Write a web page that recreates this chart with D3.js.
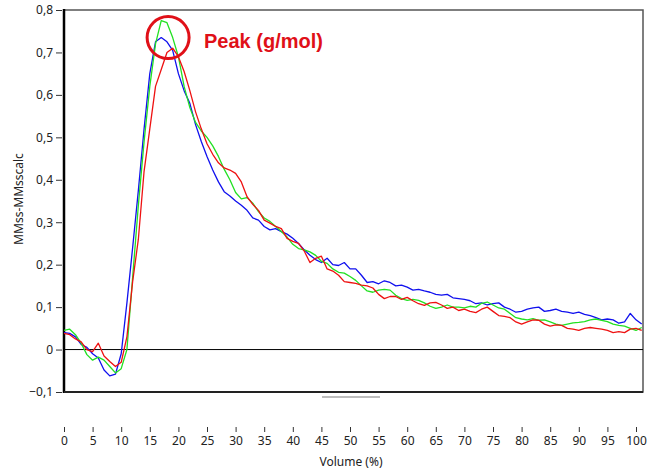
<!DOCTYPE html>
<html>
<head>
<meta charset="utf-8">
<script src="https://cdn.jsdelivr.net/npm/d3@7"></script>
<style>
body { margin: 0; background: #fff; }
text { font-family: "Noto Sans", "DejaVu Sans", sans-serif; }
</style>
</head>
<body>
<div id="chart"></div>
<script>
// volume (%) grid
var volume = d3.range(0, 102, 1);

var blueVals = [0.040, 0.038, 0.030, 0.012, 0.005, -0.010, -0.020, -0.048, -0.062, -0.058,
    -0.010, 0.110, 0.240, 0.375, 0.520, 0.650, 0.725, 0.735, 0.725, 0.705,
    0.650, 0.610, 0.580, 0.530, 0.490, 0.455, 0.423, 0.395, 0.372, 0.362,
    0.350, 0.340, 0.328, 0.310, 0.305, 0.290, 0.282, 0.285, 0.278, 0.272,
    0.262, 0.250, 0.235, 0.222, 0.212, 0.205, 0.215, 0.200, 0.198, 0.205,
    0.190, 0.190, 0.175, 0.158, 0.160, 0.155, 0.162, 0.158, 0.150, 0.152,
    0.147, 0.140, 0.142, 0.138, 0.135, 0.130, 0.128, 0.130, 0.122, 0.120,
    0.118, 0.115, 0.108, 0.110, 0.105, 0.108, 0.110, 0.100, 0.095, 0.088,
    0.090, 0.095, 0.098, 0.100, 0.090, 0.092, 0.095, 0.090, 0.088, 0.085,
    0.088, 0.083, 0.080, 0.075, 0.070, 0.072, 0.070, 0.062, 0.065, 0.085,
    0.070, 0.060];

var greenVals = [0.045, 0.048, 0.035, 0.015, -0.012, -0.025, -0.018, -0.025, -0.040, -0.055,
    -0.045, 0.000, 0.170, 0.340, 0.490, 0.620, 0.720, 0.775, 0.770, 0.735,
    0.690, 0.620, 0.570, 0.535, 0.515, 0.500, 0.480, 0.455, 0.425, 0.400,
    0.370, 0.355, 0.358, 0.345, 0.325, 0.310, 0.302, 0.290, 0.278, 0.265,
    0.248, 0.238, 0.235, 0.230, 0.222, 0.208, 0.203, 0.190, 0.182, 0.180,
    0.172, 0.163, 0.150, 0.138, 0.135, 0.140, 0.142, 0.140, 0.128, 0.120,
    0.116, 0.118, 0.116, 0.110, 0.102, 0.097, 0.100, 0.105, 0.100, 0.100,
    0.098, 0.102, 0.100, 0.109, 0.112, 0.105, 0.098, 0.095, 0.085, 0.075,
    0.072, 0.070, 0.073, 0.069, 0.070, 0.065, 0.060, 0.057, 0.060, 0.063,
    0.064, 0.066, 0.070, 0.072, 0.069, 0.066, 0.060, 0.057, 0.055, 0.050,
    0.045, 0.052];

var redVals = [0.038, 0.035, 0.025, 0.018, 0.000, -0.005, 0.015, -0.015, -0.028, -0.040,
    -0.030, 0.030, 0.160, 0.260, 0.420, 0.520, 0.620, 0.660, 0.700, 0.710,
    0.690, 0.655, 0.610, 0.560, 0.520, 0.485, 0.460, 0.440, 0.428, 0.423,
    0.415, 0.395, 0.360, 0.342, 0.328, 0.305, 0.298, 0.290, 0.285, 0.262,
    0.255, 0.250, 0.232, 0.205, 0.215, 0.220, 0.190, 0.185, 0.175, 0.160,
    0.158, 0.156, 0.152, 0.150, 0.145, 0.130, 0.120, 0.125, 0.125, 0.118,
    0.123, 0.115, 0.108, 0.104, 0.110, 0.111, 0.105, 0.097, 0.100, 0.092,
    0.095, 0.090, 0.087, 0.095, 0.100, 0.090, 0.080, 0.078, 0.075, 0.065,
    0.060, 0.065, 0.070, 0.069, 0.060, 0.055, 0.058, 0.057, 0.050, 0.048,
    0.045, 0.050, 0.052, 0.050, 0.048, 0.045, 0.040, 0.042, 0.040, 0.048,
    0.050, 0.045];

var xTicks = d3.range(0, 101, 5);
var yTicks = [-0.1, 0, 0.1, 0.2, 0.3, 0.4, 0.5, 0.6, 0.7, 0.8];

var series = [
    { name: "blue", color: "#1010ee", values: blueVals },
    { name: "green", color: "#22e022", values: greenVals },
    { name: "red", color: "#ee1111", values: redVals }
];

var width = 652;
var height = 472;
var frame = { left: 64, right: 643, top: 10, bottom: 392 };

var svg = d3.select("#chart")
    .append("svg")
    .attr("width", width)
    .attr("height", height);

var x = d3.scaleLinear().domain([0, 100]).range([64, 636]);
var y = d3.scaleLinear().domain([-0.1, 0.8]).range([392, 10]);

// frame
svg.append("rect")
    .attr("x", frame.left)
    .attr("y", frame.top)
    .attr("width", frame.right - frame.left)
    .attr("height", frame.bottom - frame.top)
    .attr("fill", "#fff")
    .attr("stroke", "#555")
    .attr("stroke-width", 1.5);
svg.append("line")
    .attr("x1", frame.left).attr("x2", frame.left)
    .attr("y1", frame.top - 1).attr("y2", frame.bottom + 1)
    .attr("stroke", "#000")
    .attr("stroke-width", 2.5);
svg.append("line")
    .attr("x1", frame.left).attr("x2", frame.right)
    .attr("y1", frame.bottom).attr("y2", frame.bottom)
    .attr("stroke", "#222")
    .attr("stroke-width", 2);

// y axis
var yAxis = d3.axisLeft(y)
    .tickValues(yTicks)
    .tickSize(6)
    .tickPadding(3)
    .tickFormat(function(d) { return d3.format(".1f")(d).replace(".", ",").replace("0,0", "0"); });
var gy = svg.append("g")
    .attr("transform", "translate(" + (frame.left - 2) + ",0)")
    .call(yAxis);
gy.select(".domain").remove();
gy.selectAll("line").attr("stroke", "#333");
gy.selectAll("text").attr("font-size", 12).attr("fill", "#222")
    .style("font-family", "'Noto Sans', sans-serif");

// x axis, detached below the frame
var xAxis = d3.axisBottom(x)
    .tickValues(xTicks)
    .tickSize(5)
    .tickPadding(4);
var gx = svg.append("g")
    .attr("transform", "translate(0,427)")
    .call(xAxis);
gx.select(".domain").remove();
gx.selectAll("line").attr("stroke", "#333");
gx.selectAll("text").attr("font-size", 12).attr("fill", "#222")
    .style("font-family", "'Noto Sans', sans-serif");

// zero line
svg.append("line")
    .attr("x1", frame.left).attr("x2", frame.right)
    .attr("y1", y(0)).attr("y2", y(0))
    .attr("stroke", "#000")
    .attr("stroke-width", 1);

// scroll marker
svg.append("rect")
    .attr("x", 322).attr("y", 396)
    .attr("width", 58).attr("height", 2)
    .attr("fill", "#bdbdbd");

var line = d3.line()
    .x(function(d, i) { return x(volume[i]); })
    .y(function(d) { return y(d); });

svg.append("g")
    .selectAll("path")
    .data(series)
    .enter()
    .append("path")
    .attr("d", function(s) { return line(s.values); })
    .attr("fill", "none")
    .attr("stroke", function(s) { return s.color; })
    .attr("stroke-width", 1.3)
    .attr("stroke-linejoin", "round");

// axis titles
svg.append("text")
    .attr("x", 351)
    .attr("y", 466)
    .attr("text-anchor", "middle")
    .attr("font-size", 12)
    .attr("fill", "#222")
    .text("Volume (%)");
svg.append("text")
    .attr("transform", "translate(23,199) rotate(-90)")
    .attr("text-anchor", "middle")
    .attr("font-size", 12)
    .attr("fill", "#222")
    .text("MMss-MMsscalc");

// peak annotation
svg.append("circle")
    .attr("cx", x(18.2))
    .attr("cy", y(0.735))
    .attr("r", 21)
    .attr("fill", "none")
    .attr("stroke", "#e01018")
    .attr("stroke-width", 3);
svg.append("text")
    .attr("x", 204)
    .attr("y", 48)
    .attr("font-size", 20)
    .attr("font-weight", "bold")
    .attr("fill", "#e01018")
    .style("font-family", "Arial, 'Liberation Sans', sans-serif")
    .text("Peak (g/mol)");
</script>
</body>
</html>
